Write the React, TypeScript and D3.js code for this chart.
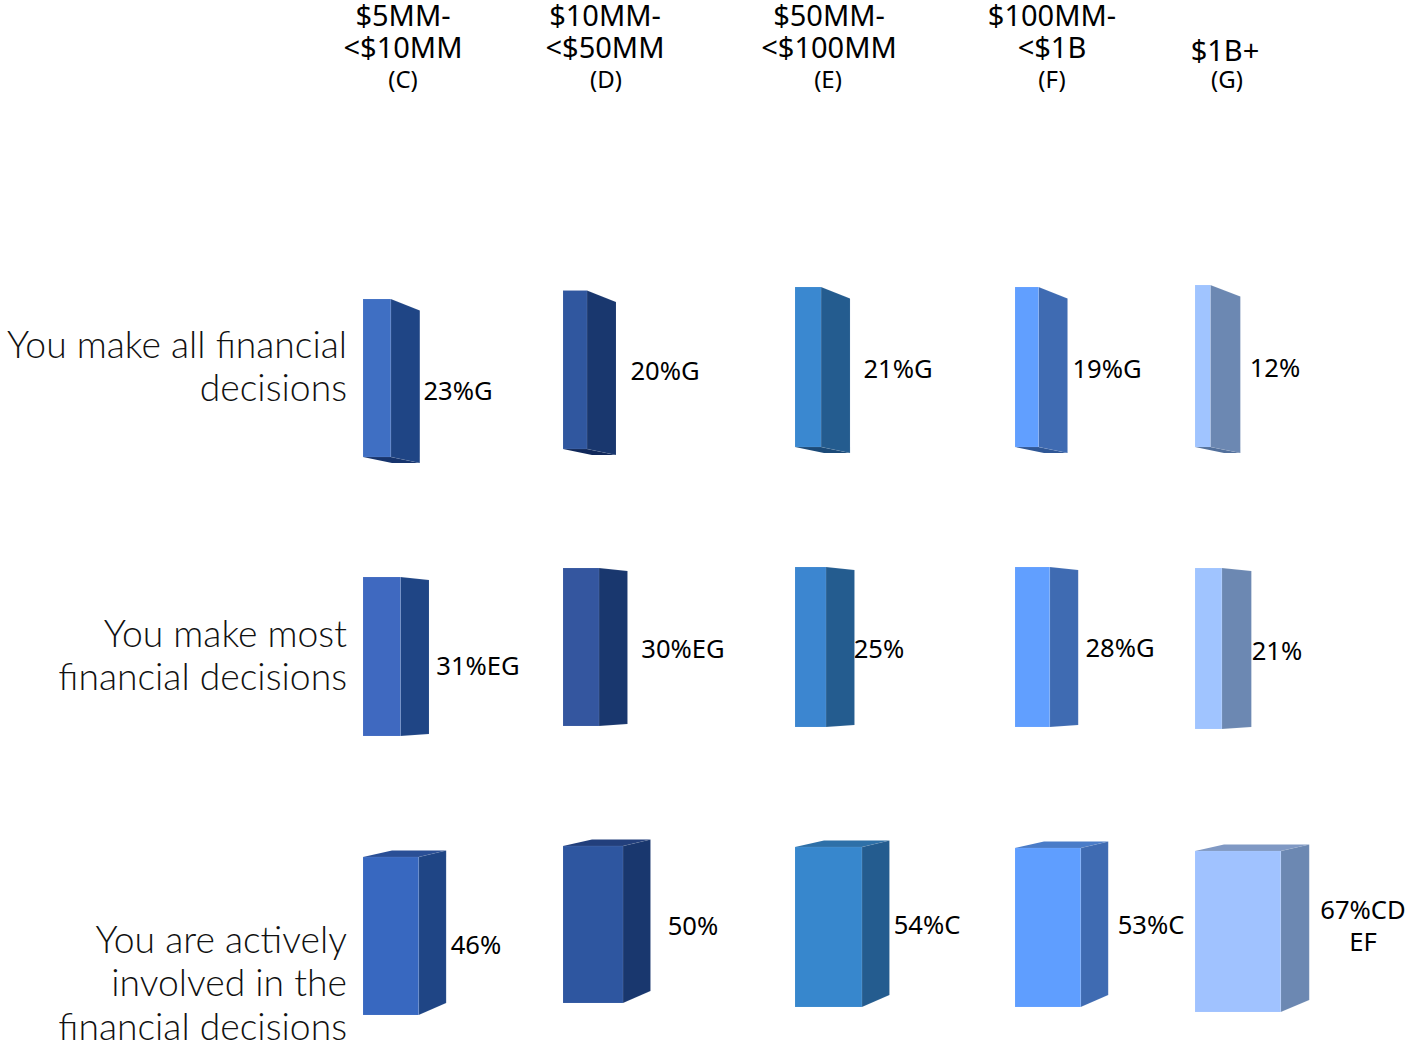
import React from "react";
import * as d3 from "d3";

const headerLines = [["$5MM-", "<$10MM"], ["$10MM-", "<$50MM"], ["$50MM-", "<$100MM"], ["$100MM-", "<$1B"], ["$1B+"]];
const columnCodes = ["(C)", "(D)", "(E)", "(F)", "(G)"];
const rowLabels = [
  ["You make all financial", "decisions"],
  ["You make most", "financial decisions"],
  ["You are actively", "involved in the", "financial decisions"],
];
const allDecisions = [23, 20, 21, 19, 12];
const mostDecisions = [31, 30, 25, 28, 21];
const involved = [46, 50, 54, 53, 67];
const allTags = ["G", "G", "G", "G", ""];
const mostTags = ["EG", "EG", "", "G", ""];
const involvedTags = ["", "", "C", "C", "CD\nEF"];

// Layout only
const W = 1408, H = 1045;
const colLeft = [363, 563, 795, 1015, 1195];
const colFullWidth = [121, 120, 124, 124, 128]; // front-face px at 100%
const colDepthExtra = [0, 0, 0, 0, 1];
const headerX = [403, 605, 829, 1052, 1225];
const codeX = [403, 606, 828, 1052, 1227];
const frontTop = [[299, 290.5, 287, 287, 285], [577, 568, 567, 567, 568], [857, 846, 847, 848, 851]];
const frontBottom = [[457, 449, 447, 447, 447], [736, 726, 727, 727, 729], [1015, 1003, 1007, 1007, 1012]];
const rowDepth = [29, 28.5, 27.5];
const sideTopDy = [11.5, 3, -6.5];
const sideBotDy = [6, -2, -12];
const labelX = [[458, 665, 898, 1107, 1275], [478, 683, 879, 1120, 1277], [476, 693, 927, 1151, 1363]];
const labelY = [[391, 371, 369, 369, 368], [666, 649, 649, 648, 651], [945, 926, 925, 925, 910]];
const rowLabelBase = [[358, 401], [647, 690], [953, 996, 1040]];
const frontColors = [
  ["#3f6fc3", "#30579f", "#3a88d0", "#619fff", "#a0c4ff"],
  ["#3f69c0", "#34569f", "#3c86d0", "#619fff", "#a0c4ff"],
  ["#3868c0", "#2e56a0", "#3787cd", "#5f9eff", "#a0c2ff"],
];
const sideColors = ["#1f4585", "#19376e", "#245c8f", "#3f6bb2", "#6c88b2"];
const topColors = ["#2a4f96", "#223f7c", "#2e70a8", "#4a7cc8", "#8099c4"];
const bottomColors = ["#16346d", "#10285a", "#1b4a78", "#2f5796", "#52709c"];

const series = [allDecisions, mostDecisions, involved];
const tags = [allTags, mostTags, involvedTags];
const line = d3.line<[number, number]>();
const BODY = "'Noto Sans', sans-serif";

function Bar({ r, c, value }: { r: number; c: number; value: number }) {
  const wScale = d3.scaleLinear().domain([0, 100]).range([0, colFullWidth[c]]);
  const x0 = colLeft[c];
  const x1 = x0 + wScale(value);
  const d = rowDepth[r] + colDepthExtra[c];
  const t = frontTop[r][c], b = frontBottom[r][c];
  const tb = t + sideTopDy[r], bb = b + sideBotDy[r];
  const edge = { stroke: "#ffffff", strokeOpacity: 0.08, strokeWidth: 1 };
  const lean = 29;
  return (
    <g>
      {r === 2 && (
        <path d={line([[x0, t], [x0 + lean, tb], [x1 + d, tb], [x1, t]]) + "Z"} fill={topColors[c]} />
      )}
      {r === 0 && (
        <path d={line([[x0, b], [x1, b], [x1 + d, bb], [x0 + lean, bb]]) + "Z"} fill={bottomColors[c]} />
      )}
      <path d={line([[x1, t], [x1 + d, tb], [x1 + d, bb], [x1, b]]) + "Z"} fill={sideColors[c]} {...edge} />
      <path d={line([[x0, t], [x1, t], [x1, b], [x0, b]]) + "Z"} fill={frontColors[r][c]} {...edge} />
    </g>
  );
}

export default function App() {
  return (
    <svg width={W} height={H} viewBox={`0 0 ${W} ${H}`} style={{ position: "absolute", left: 0, top: 0, background: "#fff" }}>
      {headerLines.map((lines, c) => (
        <g key={c} fontFamily={BODY} fontSize={29} textAnchor="middle" fill="#000">
          {lines.map((l, i) => (
            <text key={i} x={headerX[c]} y={lines.length === 1 ? 61 : 26 + i * 32}>{l}</text>
          ))}
          <text x={codeX[c]} y={88} fontSize={24}>{columnCodes[c]}</text>
        </g>
      ))}
      {rowLabels.map((lines, r) => (
        <g key={r} fontFamily="Lato, sans-serif" fontWeight={300} fontSize={37.3} textAnchor="end" fill="#111">
          {lines.map((l, i) => (
            <text key={i} x={347} y={rowLabelBase[r][i]}>{l}</text>
          ))}
        </g>
      ))}
      {series.map((vals, r) => vals.map((v, c) => <Bar key={`${r}-${c}`} r={r} c={c} value={v} />))}
      {series.map((vals, r) => vals.map((v, c) => {
        const parts = `${v}%${tags[r][c]}`.split("\n");
        return (
          <g key={`l${r}-${c}`} fontFamily={BODY} fontSize={25.6} textAnchor="middle" fill="#000">
            {parts.map((p, i) => (
              <text key={i} x={labelX[r][c]} y={labelY[r][c] + 9 + i * 32}>{p}</text>
            ))}
          </g>
        );
      }))}
    </svg>
  );
}
